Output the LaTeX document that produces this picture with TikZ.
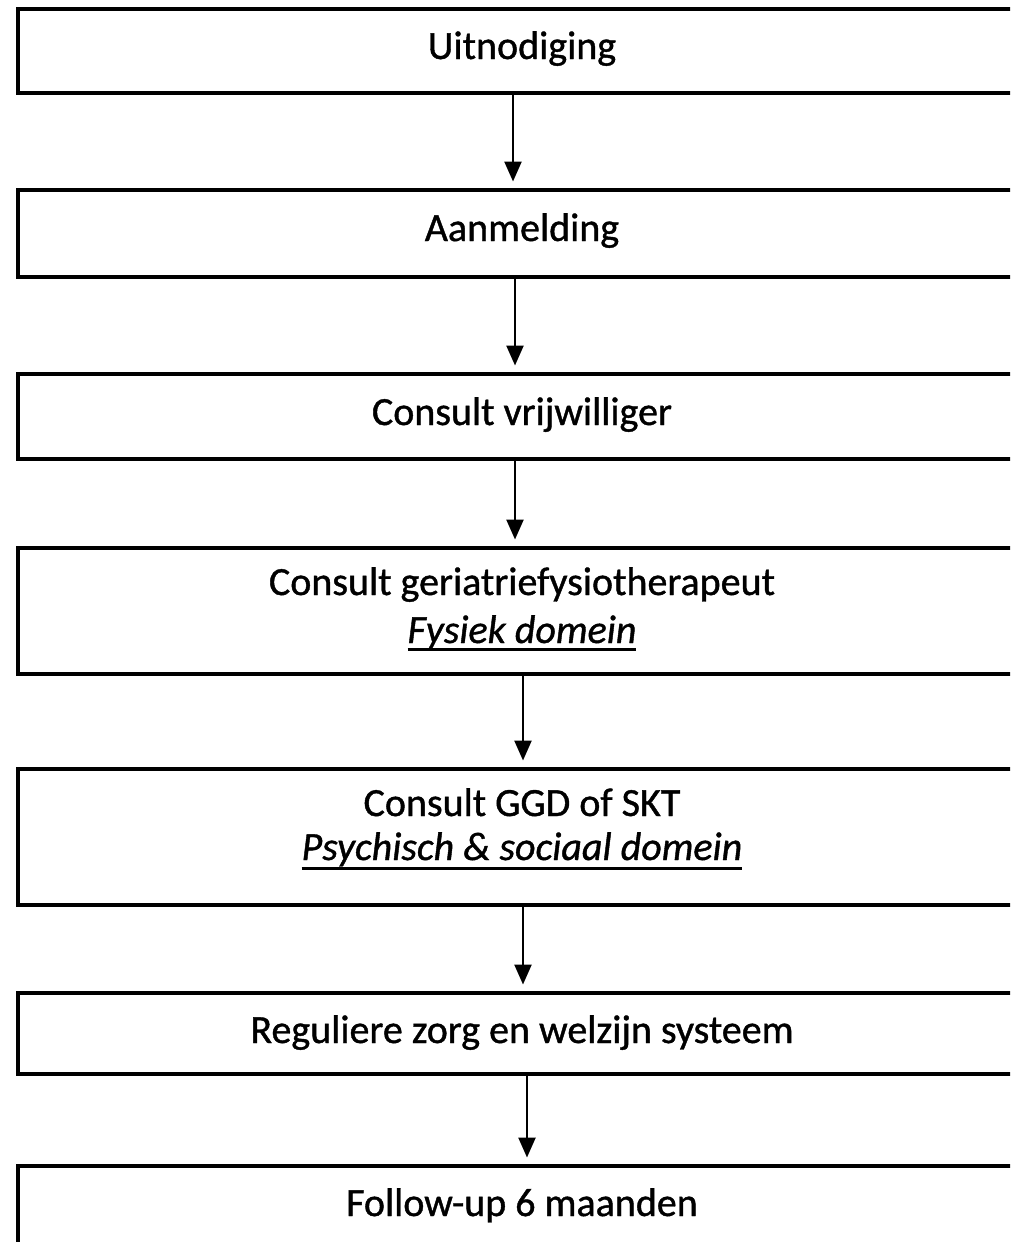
\documentclass[tikz,border=0pt]{standalone}
\usepackage{fontspec}
\setmainfont[FakeBold=1]{Carlito}
\usetikzlibrary{arrows.meta}
\tikzset{
  box/.style={draw=black, line width=3.2pt, fill=none, minimum width=1008pt, inner sep=0pt, outer sep=0pt},
  txt/.style={inner sep=0pt, outer sep=0pt, anchor=base, font=\fontsize{40}{48}\selectfont},
  itxt/.style={txt, font=\fontsize{40}{48}\selectfont\itshape},
  arr/.style={line width=2.5pt, -{Triangle[width=17pt,length=20pt]}, shorten >=8.5pt},
  uline/.style={line width=3pt}
}
\begin{document}
\begin{tikzpicture}[x=1pt,y=-1pt]
\useasboundingbox (0,0) rectangle (1010,1242);
\clip (0,0) rectangle (1010,1242);
% boxes
\node[box, minimum height=84pt]  (b1) at (522,51) {};
\node[box, minimum height=87pt]  (b2) at (522,233.5) {};
\node[box, minimum height=85pt]  (b3) at (522,416.5) {};
\node[box, minimum height=126pt] (b4) at (522,611) {};
\node[box, minimum height=136pt] (b5) at (522,837) {};
\node[box, minimum height=81pt]  (b6) at (522,1033.5) {};
\node[box, minimum height=120pt] (b7) at (522,1226) {};
% texts
\node[txt]  (t1)  at (522,59)   {Uitnodiging};
\node[txt]  (t2)  at (522,241)  {Aanmelding};
\node[txt]  (t3)  at (522,425)  {Consult vrijwilliger};
\node[txt]  (t4)  at (522,595)  {Consult geriatriefysiotherapeut};
\node[itxt] (t4b) at (522,643)  {Fysiek domein};
\node[txt]  (t5)  at (522,816)  {Consult GGD of SKT};
\node[itxt] (t5b) at (522,860)  {Psychisch \& sociaal domein};
\node[txt]  (t6)  at (522,1043) {Reguliere zorg en welzijn systeem};
\node[txt]  (t7)  at (522,1216) {Follow-up 6 maanden};
% underlines
\draw[uline] ([yshift=-6pt]t4b.base west) -- ([yshift=-6pt]t4b.base east);
\draw[uline] ([yshift=-8pt]t5b.base west) -- ([yshift=-8pt]t5b.base east);
% arrows
\draw[arr] ([xshift=-9pt]b1.south) -- ([xshift=-9pt]b2.north);
\draw[arr] ([xshift=-7pt]b2.south) -- ([xshift=-7pt]b3.north);
\draw[arr] ([xshift=-7pt]b3.south) -- ([xshift=-7pt]b4.north);
\draw[arr] ([xshift=1pt]b4.south) -- ([xshift=1pt]b5.north);
\draw[arr] ([xshift=1pt]b5.south) -- ([xshift=1pt]b6.north);
\draw[arr] ([xshift=5pt]b6.south) -- ([xshift=5pt]b7.north);
\end{tikzpicture}
\end{document}
